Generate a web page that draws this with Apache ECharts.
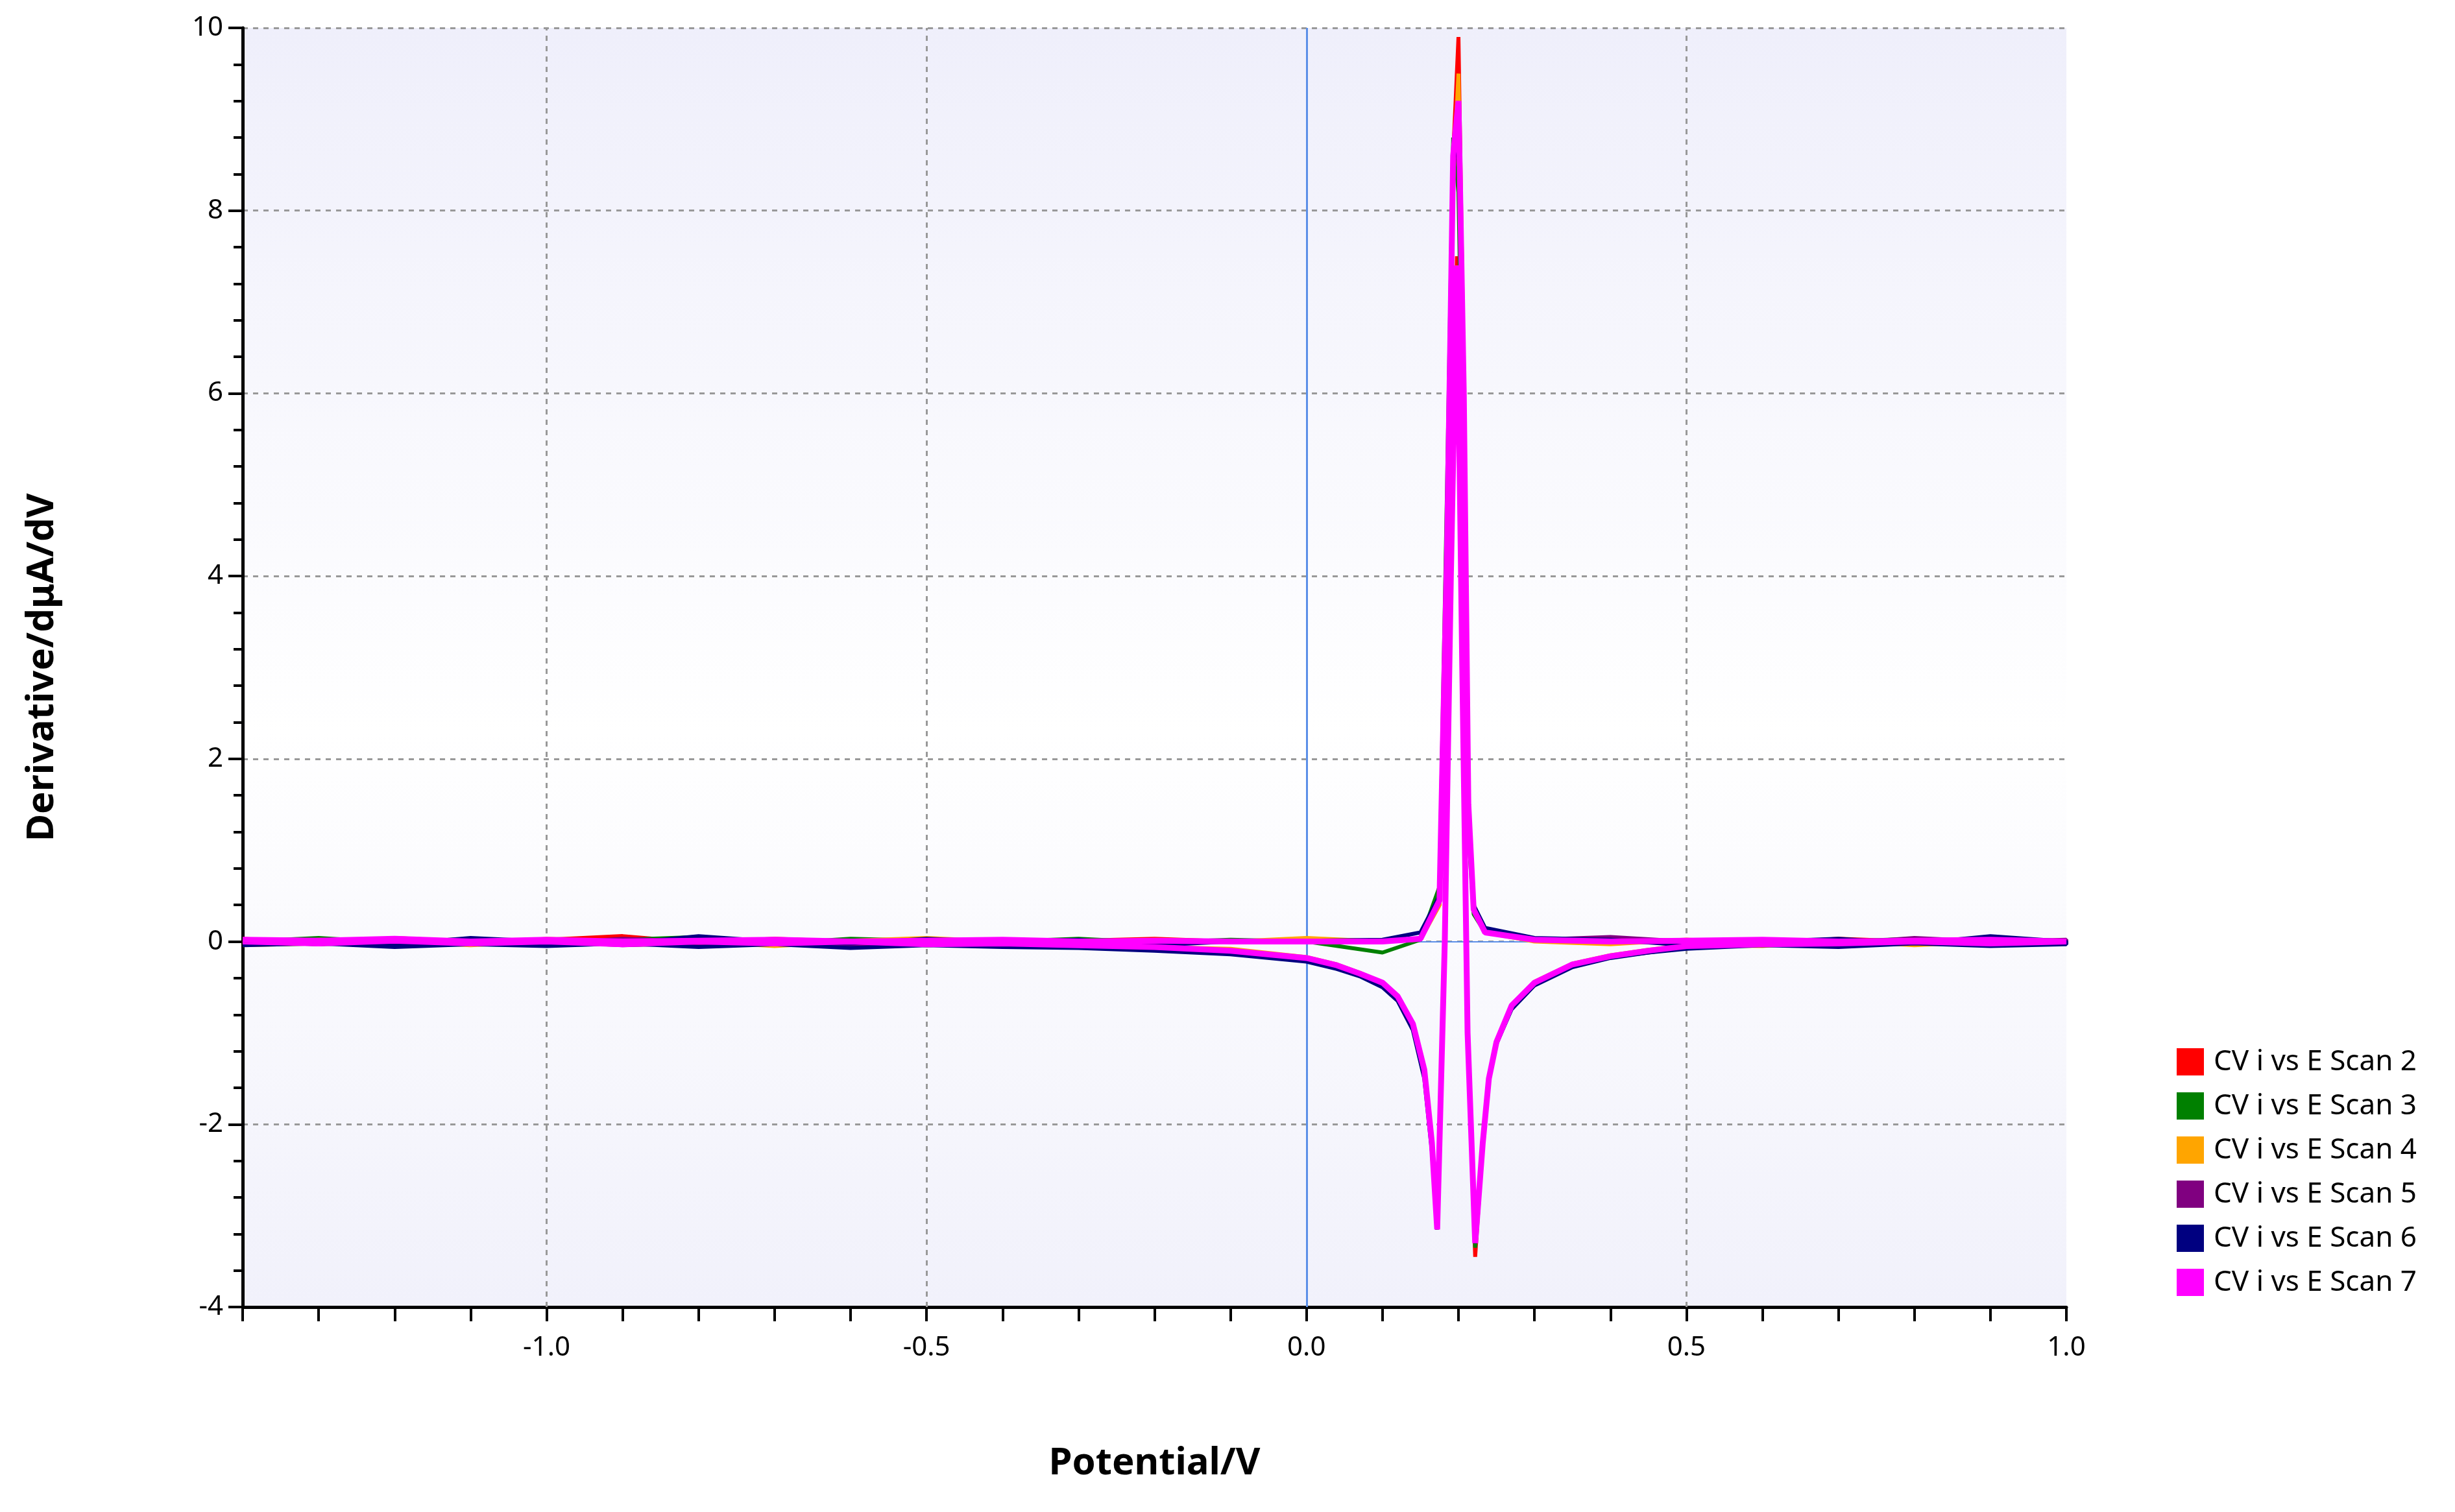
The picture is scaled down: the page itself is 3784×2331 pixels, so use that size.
<!DOCTYPE html>
<html>
<head>
<meta charset="utf-8">
<script src="https://cdn.jsdelivr.net/npm/echarts@6/dist/echarts.min.js"></script>
<style>html,body{margin:0;padding:0;background:#fff}#chart{width:3784px;height:2331px}</style>
</head>
<body>
<div id="chart"></div>
<script>
  /** Data */
  var scanNames = ['CV i vs E Scan 2', 'CV i vs E Scan 3', 'CV i vs E Scan 4', 'CV i vs E Scan 5', 'CV i vs E Scan 6', 'CV i vs E Scan 7'];
  var scanColors = ['#ff0000', '#008000', '#ffa500', '#800080', '#000080', '#ff00ff'];

  // forward sweep potentials (V)
  var fwdE = [-1.4, -1.3, -1.2, -1.1, -1.0, -0.9, -0.8, -0.7, -0.6, -0.5, -0.4, -0.3, -0.2, -0.1, 0.0, 0.1, 0.15,
    0.175, 0.185, 0.193, 0.2, 0.207, 0.213, 0.22, 0.235, 0.3, 0.4, 0.5, 0.6, 0.7, 0.8, 0.9, 1.0];
  // reverse sweep potentials (V)
  var revE = [1.0, 0.9, 0.8, 0.7, 0.6, 0.5, 0.45, 0.4, 0.35, 0.3, 0.27, 0.25, 0.24, 0.232, 0.222, 0.212, 0.205,
    0.198, 0.19, 0.182, 0.172, 0.165, 0.155, 0.14, 0.12, 0.1, 0.07, 0.04, 0.0, -0.1, -0.2, -0.3, -0.4, -0.5,
    -0.6, -0.7, -0.8, -0.9, -1.0, -1.1, -1.2, -1.3, -1.4];

  var fwdScan2 = [0.03, -0.02, 0.04, 0.0, 0.02, 0.06, -0.01, 0.03, 0.0, 0.02, -0.02, 0.01, 0.03, 0.0, 0.02, 0.01, 0.03,
    0.4, 4.2, 8.6, 9.9, 6.2, 1.6, 0.4, 0.12, 0.03, 0.0, 0.02, -0.02, 0.03, 0.0, 0.04, 0.0];
  var fwdScan3 = [0.0, 0.04, -0.01, 0.03, 0.0, 0.02, 0.05, -0.02, 0.03, 0.01, 0.0, 0.03, -0.01, 0.02, 0.0, -0.12, 0.02,
    0.6, 5.0, 8.8, 8.2, 5.0, 1.2, 0.3, 0.1, 0.02, 0.03, -0.01, 0.02, 0.0, 0.03, -0.02, 0.01];
  var fwdScan4 = [-0.02, 0.02, 0.0, -0.04, 0.03, 0.0, 0.02, -0.05, 0.01, 0.04, 0.0, -0.02, 0.02, 0.0, 0.04, 0.0, 0.02,
    0.4, 4.0, 8.3, 9.5, 6.0, 1.5, 0.35, 0.1, 0.0, -0.03, 0.02, 0.0, -0.04, 0.02, 0.0, -0.02];
  var fwdScan5 = [0.01, -0.03, 0.02, 0.0, -0.02, 0.03, 0.0, 0.02, -0.03, 0.0, 0.02, 0.0, -0.02, 0.01, 0.0, 0.0, 0.02,
    0.45, 4.4, 8.4, 9.0, 5.8, 1.4, 0.35, 0.12, 0.02, 0.05, 0.0, 0.02, -0.02, 0.04, 0.0, 0.02];
  var fwdScan6 = [0.02, 0.0, -0.03, 0.04, 0.0, -0.02, 0.06, 0.0, -0.02, 0.03, 0.0, 0.02, -0.04, 0.0, 0.01, 0.02, 0.1,
    0.5, 4.3, 8.5, 9.0, 5.9, 1.5, 0.4, 0.15, 0.04, 0.02, -0.04, 0.0, 0.03, -0.02, 0.06, 0.0];
  var fwdScan7 = [0.02, 0.01, 0.03, 0.0, 0.02, 0.0, 0.01, 0.02, 0.0, 0.01, 0.02, 0.0, 0.01, 0.0, 0.0, 0.0, 0.03,
    0.45, 4.3, 8.6, 9.2, 6.0, 1.5, 0.35, 0.1, 0.02, 0.0, 0.01, 0.02, 0.0, 0.01, 0.02, 0.0];

  var revScan2 = [0.0, 0.03, -0.02, 0.0, -0.03, -0.06, -0.1, -0.16, -0.25, -0.45, -0.7, -1.1, -1.5, -2.2, -3.45, -1.0,
    3.0, 7.5, 4.0, 0.0, -3.15, -2.2, -1.4, -0.9, -0.6, -0.45, -0.35, -0.26, -0.18, -0.1, -0.07, -0.03, -0.04,
    0.0, -0.02, 0.02, -0.03, 0.0, -0.02, 0.01, -0.04, 0.0, -0.02];
  var revScan3 = [0.02, -0.02, 0.0, -0.03, -0.02, -0.07, -0.11, -0.17, -0.27, -0.47, -0.72, -1.12, -1.5, -2.2, -3.35, -1.0,
    2.8, 7.2, 3.8, 0.0, -3.1, -2.2, -1.45, -0.95, -0.62, -0.47, -0.36, -0.27, -0.2, -0.12, -0.05, -0.05, -0.02,
    -0.03, 0.0, -0.02, 0.02, -0.03, 0.0, -0.02, 0.0, -0.03, 0.0];
  var revScan4 = [-0.02, 0.0, -0.04, 0.01, -0.05, -0.04, -0.09, -0.15, -0.24, -0.44, -0.7, -1.08, -1.48, -2.2, -3.3, -1.0,
    3.0, 7.4, 4.0, 0.0, -3.1, -2.2, -1.4, -0.9, -0.6, -0.45, -0.34, -0.25, -0.17, -0.08, -0.06, -0.05, -0.02,
    -0.04, 0.0, -0.05, 0.0, -0.02, 0.0, -0.04, 0.0, -0.02, -0.04];
  var revScan5 = [0.0, -0.02, 0.02, -0.04, -0.02, -0.06, -0.12, -0.17, -0.26, -0.46, -0.72, -1.1, -1.5, -2.25, -3.3, -1.1,
    2.9, 7.3, 3.9, 0.0, -3.15, -2.25, -1.45, -0.92, -0.62, -0.46, -0.36, -0.27, -0.19, -0.12, -0.08, -0.04, -0.03,
    -0.02, -0.05, 0.0, -0.02, -0.04, 0.0, -0.03, 0.0, -0.02, 0.0];
  var revScan6 = [-0.03, -0.05, -0.02, -0.06, -0.04, -0.08, -0.12, -0.18, -0.28, -0.48, -0.74, -1.12, -1.52, -2.25, -3.3, -1.05,
    2.9, 7.3, 3.9, 0.0, -3.15, -2.3, -1.5, -0.97, -0.65, -0.5, -0.38, -0.3, -0.22, -0.14, -0.1, -0.07, -0.06,
    -0.04, -0.07, -0.03, -0.06, -0.02, -0.05, -0.03, -0.06, -0.02, -0.04];
  var revScan7 = [0.0, -0.02, 0.0, -0.02, -0.03, -0.05, -0.1, -0.16, -0.25, -0.45, -0.7, -1.1, -1.5, -2.2, -3.3, -1.0,
    3.0, 7.4, 4.0, 0.0, -3.15, -2.2, -1.4, -0.9, -0.6, -0.45, -0.35, -0.26, -0.18, -0.1, -0.06, -0.04, -0.02,
    -0.03, 0.0, -0.02, 0.0, -0.03, 0.0, -0.02, 0.01, -0.02, 0.0];

  var fwdScans = [fwdScan2, fwdScan3, fwdScan4, fwdScan5, fwdScan6, fwdScan7];
  var revScans = [revScan2, revScan3, revScan4, revScan5, revScan6, revScan7];

  var xTickLabels = [-1.0, -0.5, 0.0, 0.5, 1.0];
  var yTicks = [-4, -2, 0, 2, 4, 6, 8, 10];

  /** Build */
  function pairs(es, ys) {
    var out = [];
    for (var i = 0; i < es.length; i++) out.push([es[i], ys[i]]);
    return out;
  }

  var gridLine = {color: '#999', type: [8, 8], width: 3};
  var series = scanNames.map(function(name, k) {
    return {
      name: name,
      type: 'line',
      showSymbol: false,
      symbol: 'rect',
      z: 5 + k,
      data: pairs(fwdE, fwdScans[k]).concat(pairs(revE, revScans[k])),
      lineStyle: {width: k === 5 ? 9 : 6, color: scanColors[k]},
      itemStyle: {color: scanColors[k]}
    };
  });
  series[0].markLine = {
    silent: true,
    symbol: 'none',
    label: {show: false},
    z: 1,
    data: [
      {xAxis: -1.0, lineStyle: gridLine},
      {xAxis: -0.5, lineStyle: gridLine},
      {xAxis: 0.5, lineStyle: gridLine},
      {xAxis: 0, lineStyle: {color: '#5b8fe8', type: 'solid', width: 3}},
      {yAxis: 0, lineStyle: {color: '#5b8fe8', type: 'solid', width: 2}}
    ]
  };

  var font = 'Noto Sans';
  var option = {
    animation: false,
    backgroundColor: '#fff',
    legend: {
      orient: 'vertical',
      left: 3350,
      top: 1610,
      itemWidth: 42,
      itemHeight: 42,
      itemGap: 24,
      icon: 'rect',
      textStyle: {fontFamily: font, fontSize: 44, color: '#000', padding: [0, 0, 0, 10]},
      data: scanNames
    },
    grid: {
      left: 374, right: 599, top: 43, bottom: 316,
      show: true,
      borderWidth: 0,
      backgroundColor: new echarts.graphic.LinearGradient(0, 0, 0, 1, [
        {offset: 0, color: '#efeffb'},
        {offset: 0.55, color: '#ffffff'},
        {offset: 1, color: '#f1f1fb'}
      ])
    },
    xAxis: {
      type: 'value',
      min: -1.4, max: 1.0, interval: 0.1,
      name: 'Potential/V',
      nameLocation: 'middle',
      nameGap: 212,
      nameTextStyle: {fontFamily: font, fontSize: 58, fontWeight: 'bold', color: '#000'},
      axisLine: {onZero: false, lineStyle: {color: '#000', width: 5}},
      axisTick: {length: 22, lineStyle: {color: '#000', width: 4}},
      splitLine: {show: false},
      axisLabel: {
        fontFamily: font, fontSize: 42, color: '#000', margin: 42,
        formatter: function(v) {
          for (var i = 0; i < xTickLabels.length; i++) {
            if (Math.abs(v - xTickLabels[i]) < 1e-6) return xTickLabels[i].toFixed(1);
          }
          return '';
        }
      }
    },
    yAxis: {
      type: 'value',
      min: yTicks[0], max: yTicks[yTicks.length - 1], interval: 2,
      name: 'Derivative/dμA/dV',
      nameLocation: 'middle',
      nameGap: 280,
      nameTextStyle: {fontFamily: font, fontSize: 58, fontWeight: 'bold', color: '#000'},
      axisLine: {show: true, onZero: false, lineStyle: {color: '#000', width: 5}},
      axisTick: {length: 22, lineStyle: {color: '#000', width: 4}},
      minorTick: {show: true, splitNumber: 5, length: 14, lineStyle: {color: '#000', width: 4}},
      splitLine: {lineStyle: gridLine},
      axisLabel: {fontFamily: font, fontSize: 42, color: '#000', margin: 30}
    },
    series: series
  };

  echarts.init(document.getElementById('chart')).setOption(option);
</script>
</body>
</html>
